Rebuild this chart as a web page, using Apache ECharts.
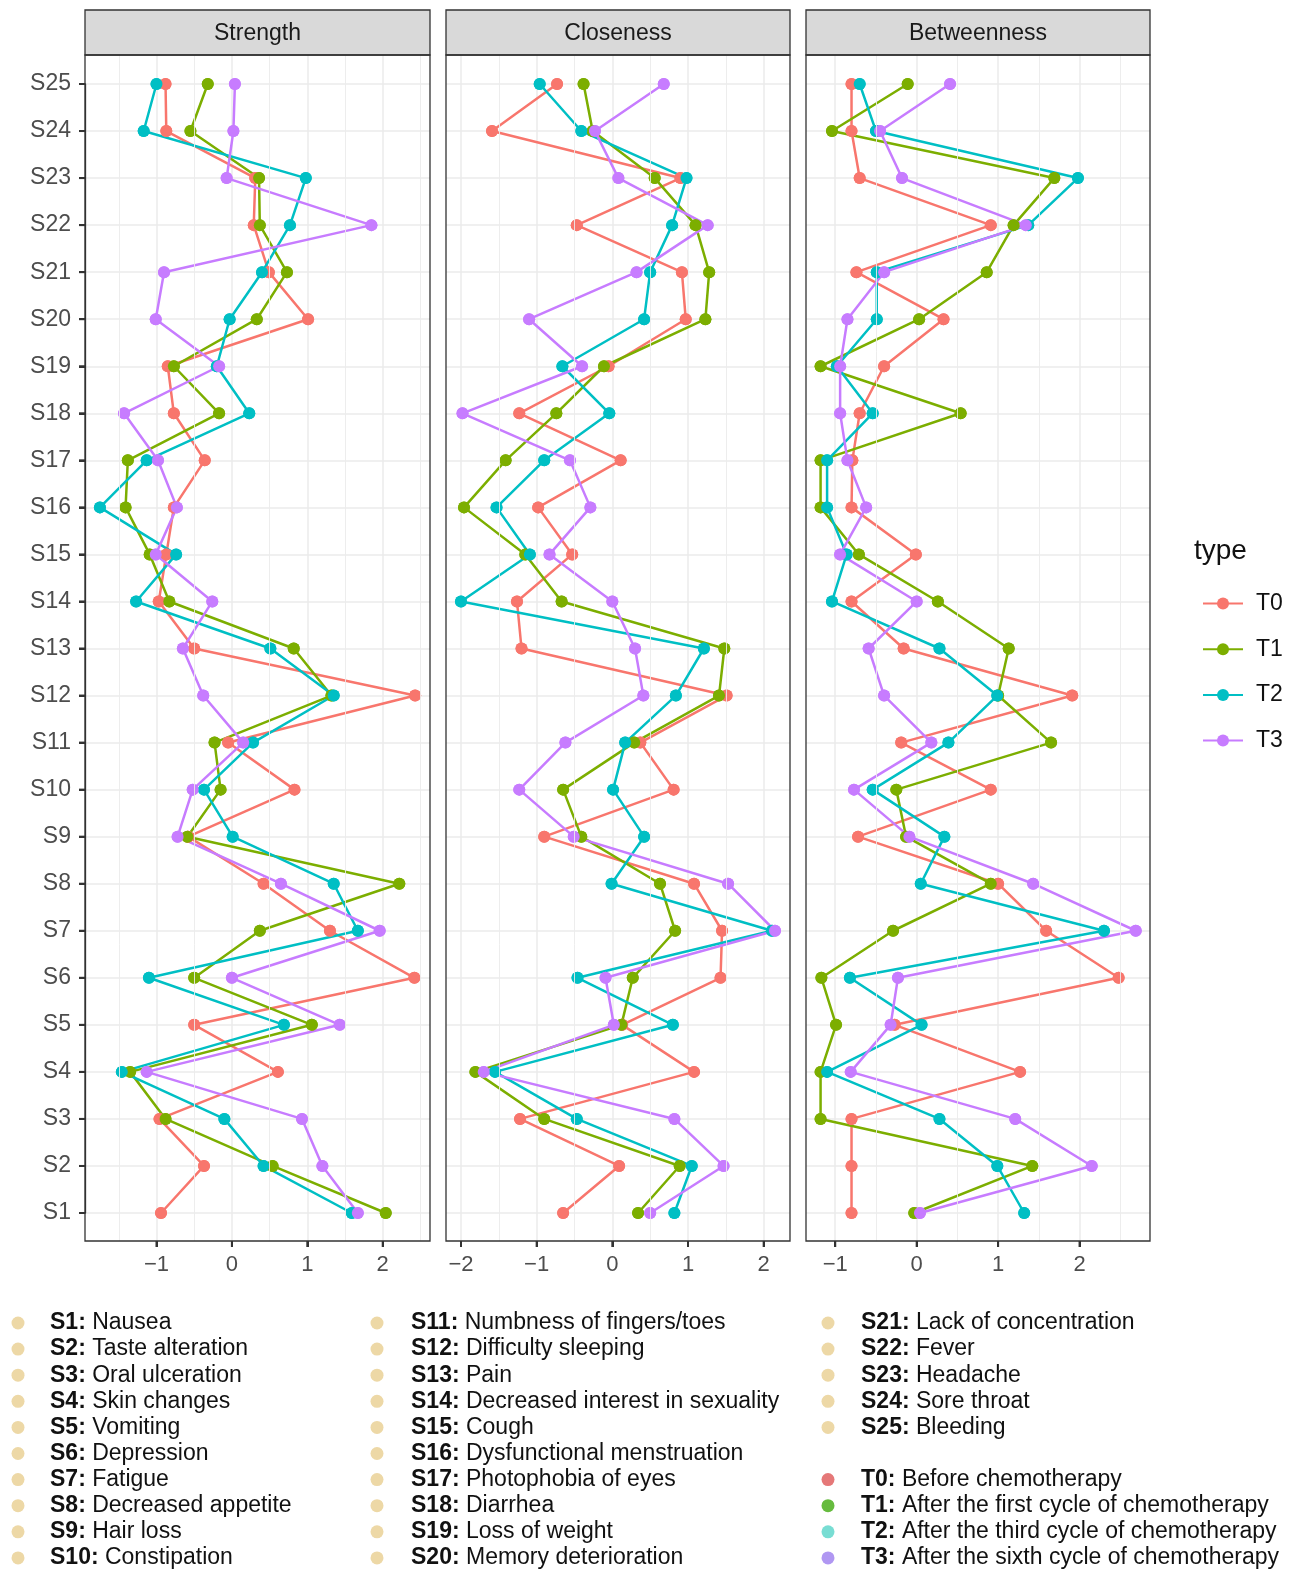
<!DOCTYPE html>
<html>
<head>
<meta charset="utf-8">
<script src="https://cdn.jsdelivr.net/npm/echarts@6/dist/echarts.min.js"></script>
<style>
html,body{margin:0;padding:0;background:#ffffff;}
#chart{width:1299px;height:1571px;}
</style>
</head>
<body>
<div id="chart"></div>
<script>
// ---------------- data ----------------
const categories = ['S1','S2','S3','S4','S5','S6','S7','S8','S9','S10','S11','S12','S13','S14','S15','S16','S17','S18','S19','S20','S21','S22','S23','S24','S25'];
const panels = ['Strength','Closeness','Betweenness'];
const types = ['T0','T1','T2','T3'];

// values ordered S1 ... S25
const strengthT0 = [-0.94,-0.37,-0.96,0.61,-0.50,2.42,1.30,0.42,-0.58,0.83,-0.05,2.43,-0.50,-0.97,-0.87,-0.77,-0.36,-0.77,-0.85,1.01,0.49,0.29,0.31,-0.87,-0.88];
const strengthT1 = [2.04,0.54,-0.88,-1.35,1.06,-0.50,0.37,2.22,-0.59,-0.15,-0.23,1.32,0.82,-0.83,-1.09,-1.41,-1.38,-0.17,-0.77,0.33,0.73,0.37,0.36,-0.55,-0.32];
const strengthT2 = [1.59,0.42,-0.10,-1.46,0.69,-1.10,1.67,1.35,0.01,-0.37,0.28,1.35,0.51,-1.27,-0.74,-1.75,-1.13,0.23,-0.20,-0.03,0.40,0.77,0.98,-1.17,-1.00];
const strengthT3 = [1.67,1.20,0.93,-1.13,1.43,0.00,1.96,0.65,-0.72,-0.52,0.15,-0.38,-0.65,-0.26,-1.01,-0.73,-0.98,-1.43,-0.17,-1.01,-0.90,1.85,-0.07,0.02,0.04];

const closenessT0 = [-0.65,0.09,-1.22,1.08,0.13,1.43,1.45,1.08,-0.90,0.81,0.37,1.51,-1.20,-1.26,-0.53,-0.98,0.11,-1.23,-0.05,0.97,0.92,-0.47,0.90,-1.59,-0.73];
const closenessT1 = [0.34,0.89,-0.90,-1.81,0.12,0.27,0.83,0.63,-0.41,-0.65,0.29,1.41,1.48,-0.67,-1.15,-1.96,-1.41,-0.74,-0.11,1.23,1.28,1.10,0.56,-0.26,-0.38];
const closenessT2 = [0.82,1.05,-0.47,-1.55,0.80,-0.46,2.11,-0.01,0.42,0.01,0.17,0.84,1.21,-2.00,-1.09,-1.53,-0.90,-0.04,-0.66,0.42,0.50,0.79,0.98,-0.41,-0.96];
const closenessT3 = [0.50,1.47,0.82,-1.70,0.02,-0.09,2.15,1.53,-0.51,-1.23,-0.62,0.41,0.30,0.00,-0.83,-0.29,-0.56,-1.98,-0.40,-1.10,0.32,1.26,0.08,-0.23,0.68];

const betweennessT0 = [-0.80,-0.80,-0.80,1.27,-0.27,2.48,1.59,1.00,-0.72,0.91,-0.19,1.91,-0.16,-0.80,-0.01,-0.80,-0.79,-0.70,-0.40,0.33,-0.74,0.91,-0.70,-0.80,-0.80];
const betweennessT1 = [-0.03,1.42,-1.18,-1.18,-0.99,-1.17,-0.29,0.91,-0.13,-0.25,1.65,1.00,1.13,0.26,-0.71,-1.18,-1.18,0.54,-1.18,0.03,0.86,1.19,1.69,-1.04,-0.11];
const betweennessT2 = [1.32,0.99,0.28,-1.10,0.06,-0.82,2.30,0.05,0.34,-0.54,0.39,0.99,0.28,-1.04,-0.86,-1.10,-1.10,-0.54,-0.98,-0.49,-0.49,1.37,1.98,-0.50,-0.70];
const betweennessT3 = [0.04,2.15,1.21,-0.81,-0.32,-0.23,2.69,1.43,-0.09,-0.77,0.18,-0.40,-0.59,0.00,-0.94,-0.62,-0.85,-0.94,-0.94,-0.85,-0.40,1.34,-0.18,-0.45,0.41];

// tick labels / gridline positions
const strengthTicks = [-1,0,1,2];
const closenessTicks = [-2,-1,0,1,2];
const betweennessTicks = [-1,0,1,2];
const strengthMinor = [-1.5,-0.5,0.5,1.5,2.5];
const closenessMinor = [-1.5,-0.5,0.5,1.5];
const betweennessMinor = [-0.5,0.5,1.5,2.5];

// bottom text legend
const symptomNames = ['Nausea','Taste alteration','Oral ulceration','Skin changes','Vomiting','Depression','Fatigue','Decreased appetite','Hair loss','Constipation','Numbness of fingers/toes','Difficulty sleeping','Pain','Decreased interest in sexuality','Cough','Dysfunctional menstruation','Photophobia of eyes','Diarrhea','Loss of weight','Memory deterioration','Lack of concentration','Fever','Headache','Sore throat','Bleeding'];
const typeNames = ['Before chemotherapy','After the first cycle of chemotherapy','After the third cycle of chemotherapy','After the sixth cycle of chemotherapy'];

// ---------------- layout / style ----------------
const panelData = [
  [strengthT0, strengthT1, strengthT2, strengthT3],
  [closenessT0, closenessT1, closenessT2, closenessT3],
  [betweennessT0, betweennessT1, betweennessT2, betweennessT3]
];
const majorTicks = [strengthTicks, closenessTicks, betweennessTicks];
const minorTicks = [strengthMinor, closenessMinor, betweennessMinor];
const xExtents = [[-1.948, 2.627], [-2.198, 2.348], [-1.359, 2.865]];

const FONT = '"Liberation Sans", Arial, Helvetica, sans-serif';
const colors = ['#F8766D', '#7CAE00', '#00BFC4', '#C77CFF'];
const dotColors = ['#E57878', '#66BB3E', '#78DDD3', '#B097F2'];
const wheat = '#EDD8A6';
const panelLeft = [85, 446, 806];
const panelWidth = [345, 344, 344];
const plotTop = 55, plotHeight = 1186;
const stripTop = 10, stripHeight = 45;
const dataTop = 84, dataHeight = 1129;
const TICK = '#333333';

function fmt(v) {
  const r = Math.round(v);
  if (Math.abs(v - r) > 1e-6) return '';
  return r < 0 ? '\u2212' + (-r) : String(r);
}

const grid = [], xAxis = [], yAxis = [], series = [], graphic = [];

panels.forEach((p, i) => {
  const bg = 2 * i, dg = 2 * i + 1;
  grid.push({left: panelLeft[i], top: plotTop, width: panelWidth[i], height: plotHeight, show: true, backgroundColor: '#ffffff', borderWidth: 0});
  grid.push({left: panelLeft[i], top: dataTop, width: panelWidth[i], height: dataHeight});

  xAxis.push({
    type: 'value', gridIndex: bg, min: xExtents[i][0], max: xExtents[i][1],
    minInterval: 1, maxInterval: 1,
    axisLine: {show: false},
    axisTick: {show: true, length: 6, lineStyle: {color: TICK, width: 2}, customValues: majorTicks[i]},
    axisLabel: {show: true, customValues: majorTicks[i], fontSize: 22, color: '#4D4D4D', fontFamily: FONT, margin: 13, formatter: fmt},
    splitLine: {show: true, lineStyle: {color: '#EBEBEB', width: 1.5}}
  });
  xAxis.push({type: 'value', gridIndex: dg, min: xExtents[i][0], max: xExtents[i][1], show: false});

  yAxis.push({type: 'value', gridIndex: bg, min: 0, max: 1, show: false});
  yAxis.push({
    type: 'category', gridIndex: dg, data: categories, boundaryGap: false,
    axisLine: {show: i === 0, onZero: false, lineStyle: {color: TICK, width: 1.3}},
    axisTick: {show: i === 0, length: 6, interval: 0, lineStyle: {color: TICK, width: 2}},
    axisLabel: {show: i === 0, interval: 0, fontSize: 23, color: '#4D4D4D', fontFamily: FONT, margin: 14},
    splitLine: {show: true, interval: 0, lineStyle: {color: '#EBEBEB', width: 1.5}}
  });

  // minor vertical grid lines
  series.push({
    type: 'line', xAxisIndex: bg, yAxisIndex: bg, data: [], silent: true, z: 1,
    markLine: {
      silent: true, symbol: ['none', 'none'], label: {show: false}, animation: false,
      lineStyle: {color: '#EBEBEB', width: 0.9, type: 'solid'},
      emphasis: {disabled: true},
      data: minorTicks[i].map(v => ({xAxis: v}))
    }
  });

  types.forEach((t, k) => {
    const vals = panelData[i][k];
    const data = categories.map((c, j) => [vals[j], c]);
    series.push({
      name: t, type: 'line', xAxisIndex: dg, yAxisIndex: dg, data: data,
      symbol: 'circle', symbolSize: 12, showSymbol: true, silent: true, z: 2,
      lineStyle: {width: 2.5, color: colors[k]}, itemStyle: {color: colors[k]},
      emphasis: {disabled: true}
    });
  });
  types.forEach((t, k) => {
    const vals = panelData[i][k];
    const data = categories.map((c, j) => [vals[j], c]);
    series.push({
      name: t, type: 'scatter', xAxisIndex: dg, yAxisIndex: dg, data: data,
      symbol: 'circle', symbolSize: 12, silent: true, z: 3,
      itemStyle: {color: colors[k], opacity: 1}, emphasis: {disabled: true}
    });
  });

  // strip
  graphic.push({type: 'rect', z: 100, shape: {x: panelLeft[i], y: stripTop, width: panelWidth[i], height: stripHeight},
    style: {fill: '#D9D9D9', stroke: '#333333', lineWidth: 1.3}});
  graphic.push({type: 'text', z: 101, x: panelLeft[i] + panelWidth[i] / 2, y: stripTop + stripHeight / 2 + 1,
    style: {text: p, fontSize: 23, fontFamily: FONT, fill: '#1A1A1A', align: 'center', verticalAlign: 'middle'}});
  // panel border
  graphic.push({type: 'rect', z: 100, shape: {x: panelLeft[i], y: plotTop, width: panelWidth[i], height: plotHeight},
    style: {fill: 'none', stroke: '#333333', lineWidth: 1.3}});
});

// legend title
graphic.push({type: 'text', z: 100, x: 1194, y: 551,
  style: {text: 'type', fontSize: 28, fontFamily: FONT, fill: '#111111', align: 'left', verticalAlign: 'middle'}});

// bottom text legend
const rowY0 = 1323, rowStep = 26.1;
function legendRow(cx, tx, y, color, label, name) {
  graphic.push({type: 'circle', z: 100, shape: {cx: cx, cy: y, r: 6.5}, style: {fill: color}});
  graphic.push({type: 'text', z: 100, x: tx, y: y,
    style: {text: '{b|' + label + ':} ' + name, fontSize: 23, fontFamily: FONT, fill: '#111111', align: 'left', verticalAlign: 'middle',
      rich: {b: {fontWeight: 'bold', fontSize: 23, fontFamily: FONT, fill: '#111111'}}}});
}
for (let j = 0; j < 10; j++) legendRow(18, 50, rowY0 + j * rowStep, wheat, categories[j], symptomNames[j]);
for (let j = 10; j < 20; j++) legendRow(377, 411, rowY0 + (j - 10) * rowStep, wheat, categories[j], symptomNames[j]);
for (let j = 20; j < 25; j++) legendRow(828, 861, rowY0 + (j - 20) * rowStep, wheat, categories[j], symptomNames[j]);
for (let k = 0; k < 4; k++) legendRow(828, 861, rowY0 + (6 + k) * rowStep, dotColors[k], types[k], typeNames[k]);

const chart = echarts.init(document.getElementById('chart'), null, {renderer: 'canvas'});
chart.setOption({
  backgroundColor: '#ffffff',
  animation: false,
  grid: grid,
  xAxis: xAxis,
  yAxis: yAxis,
  legend: {
    data: types, orient: 'vertical', left: 1197, top: 587,
    itemWidth: 40, itemHeight: 15, itemGap: 22.7, selectedMode: false,
    textStyle: {fontSize: 23, color: '#111111', fontFamily: FONT, padding: [0, 0, 0, 8]}
  },
  series: series,
  graphic: graphic
});

// axis tick marks, placed through the axes' own scales
const tickMarks = [];
categories.forEach(c => {
  const y = chart.convertToPixel({yAxisIndex: 1}, c);
  if (isFinite(y)) {
    tickMarks.push({type: 'line', z: 102, shape: {x1: panelLeft[0] - 6, y1: y, x2: panelLeft[0], y2: y},
      style: {stroke: TICK, lineWidth: 2}});
  }
});
panels.forEach((p, i) => {
  majorTicks[i].forEach(v => {
    const x = chart.convertToPixel({xAxisIndex: 2 * i}, v);
    if (isFinite(x)) {
      tickMarks.push({type: 'line', z: 102, shape: {x1: x, y1: plotTop + plotHeight, x2: x, y2: plotTop + plotHeight + 6},
        style: {stroke: TICK, lineWidth: 2}});
    }
  });
});
chart.setOption({graphic: graphic.concat(tickMarks)});
</script>
</body>
</html>
